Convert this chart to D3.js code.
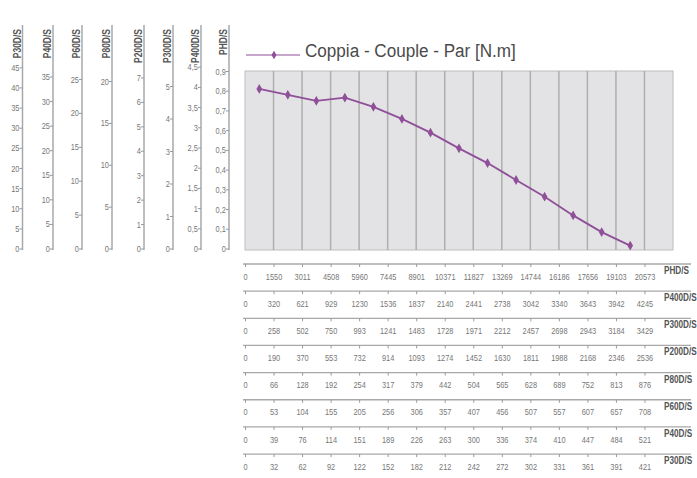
<!DOCTYPE html>
<html>
<head>
<meta charset="utf-8">
<script src="https://cdn.jsdelivr.net/npm/d3@7"></script>
<style>
  body { margin: 0; background: #fff; }
  svg { display: block; }
  text { font-family: "Liberation Sans Narrow", "Arial Narrow", "Liberation Sans", sans-serif; }
  .tick line { stroke: #999; }
  .tick text { fill: #777; font-size: 9.5px; }
</style>
</head>
<body>
<script>
// Torque curve (N.m), one point per speed step
var torque = [0.81, 0.78, 0.75, 0.766, 0.72, 0.659, 0.59, 0.511, 0.437, 0.352, 0.268, 0.174, 0.09, 0.022];

// Left vertical axes (one per model)
var leftNames = ["P30D/S", "P40D/S", "P60D/S", "P80D/S", "P200D/S", "P300D/S", "P400D/S", "PHD/S"];
var p30Ticks = [0, 5, 10, 15, 20, 25, 30, 35, 40, 45];
var p40Ticks = [0, 5, 10, 15, 20, 25, 30, 35];
var p60Ticks = [0, 5, 10, 15, 20, 25];
var p80Ticks = [0, 5, 10, 15, 20];
var p200Ticks = [0, 1, 2, 3, 4, 5, 6, 7];
var p300Ticks = [0, 1, 2, 3, 4, 5];
var p400Ticks = [0, 0.5, 1, 1.5, 2, 2.5, 3, 3.5, 4, 4.5];
var phdTicks = [0, 0.1, 0.2, 0.3, 0.4, 0.5, 0.6, 0.7, 0.8, 0.9];

// Bottom speed axes (one per model)
var bottomNames = ["PHD/S", "P400D/S", "P300D/S", "P200D/S", "P80D/S", "P60D/S", "P40D/S", "P30D/S"];
var phdSpeed = [0, 1550, 3011, 4508, 5960, 7445, 8901, 10371, 11827, 13269, 14744, 16186, 17656, 19103, 20573];
var p400Speed = [0, 320, 621, 929, 1230, 1536, 1837, 2140, 2441, 2738, 3042, 3340, 3643, 3942, 4245];
var p300Speed = [0, 258, 502, 750, 993, 1241, 1483, 1728, 1971, 2212, 2457, 2698, 2943, 3184, 3429];
var p200Speed = [0, 190, 370, 553, 732, 914, 1093, 1274, 1452, 1630, 1811, 1988, 2168, 2346, 2536];
var p80Speed = [0, 66, 128, 192, 254, 317, 379, 442, 504, 565, 628, 689, 752, 813, 876];
var p60Speed = [0, 53, 104, 155, 205, 256, 306, 357, 407, 456, 507, 557, 607, 657, 708];
var p40Speed = [0, 39, 76, 114, 151, 189, 226, 263, 300, 336, 374, 410, 447, 484, 521];
var p30Speed = [0, 32, 62, 92, 122, 152, 182, 212, 242, 272, 302, 331, 361, 391, 421];

var legendLabel = "Coppia - Couple - Par [N.m]";

var W = 697, H = 478;
var purple = "#8f4f99";
var narrow = "scale(0.78,1)";

var svg = d3.select("body").append("svg")
    .attr("width", W)
    .attr("height", H);

// Plot area
var plot = {left: 245, right: 673, top: 71, bottom: 250};
var nCols = 15;
var x = d3.scaleLinear().domain([0, nCols]).range([plot.left, plot.right]);
var y = d3.scaleLinear().domain([0, 0.9]).range([plot.bottom, plot.top]);

svg.append("rect")
    .attr("x", plot.left).attr("y", plot.top)
    .attr("width", plot.right - plot.left).attr("height", plot.bottom - plot.top)
    .attr("fill", "#e3e3e5")
    .attr("stroke", "#bdbdbd")
    .attr("stroke-width", 1);

svg.append("g").selectAll("line")
    .data(d3.range(1, nCols))
    .enter().append("line")
    .attr("x1", function(d) { return x(d); })
    .attr("x2", function(d) { return x(d); })
    .attr("y1", plot.top).attr("y2", plot.bottom)
    .attr("stroke", "#aeaeae")
    .attr("stroke-width", 1.5);

var line = d3.line()
    .x(function(d, i) { return x(i + 0.5); })
    .y(function(d) { return y(d); });

svg.append("path")
    .datum(torque)
    .attr("d", line)
    .attr("fill", "none")
    .attr("stroke", purple)
    .attr("stroke-width", 1.8);

svg.append("g").selectAll("path")
    .data(torque)
    .enter().append("path")
    .attr("d", d3.symbol().type(d3.symbolDiamond).size(28))
    .attr("transform", function(d, i) { return "translate(" + x(i + 0.5) + "," + y(d) + ")"; })
    .attr("fill", purple);

// Legend
svg.append("line")
    .attr("x1", 246).attr("x2", 300).attr("y1", 55).attr("y2", 55)
    .attr("stroke", purple).attr("stroke-width", 1.2);
svg.append("path")
    .attr("d", d3.symbol().type(d3.symbolDiamond).size(22))
    .attr("transform", "translate(274,55)")
    .attr("fill", purple);
svg.append("text")
    .attr("transform", "translate(305,57) scale(0.9,1)")
    .style("font-size", "19px")
    .style("fill", "#4a4a4a")
    .text(legendLabel);

// Left axes
var leftTicks = [p30Ticks, p40Ticks, p60Ticks, p80Ticks, p200Ticks, p300Ticks, p400Ticks, phdTicks];
var leftX = [22.5, 53, 82, 112, 144, 173, 201, 229];
var leftTopPx = [67.3, 76.5, 79, 81, 77.5, 86, 66.7, 71];
var zeroPx = 248.5;
var fmtComma = function(d) { return String(+d.toFixed(2)).replace(".", ","); };

leftTicks.forEach(function(ticks, k) {
  var max = ticks[ticks.length - 1];
  var s = d3.scaleLinear().domain([0, max]).range([zeroPx, leftTopPx[k]]);
  var g = svg.append("g").attr("transform", "translate(" + leftX[k] + ",0)");

  g.append("line")
    .attr("x1", 0).attr("x2", 0).attr("y1", 25).attr("y2", 250)
    .attr("stroke", "#a8a8a8").attr("stroke-width", 1.5);

  g.call(d3.axisLeft(s).tickValues(ticks).tickSize(3).tickPadding(1).tickFormat(fmtComma));
  g.select(".domain").remove();
  g.selectAll(".tick text").attr("transform", narrow);

  svg.append("text")
    .attr("transform", "translate(" + (leftX[k] - 2) + ",29) rotate(-90) scale(0.85,1)")
    .attr("text-anchor", "end")
    .style("font-size", "10px")
    .style("font-weight", "bold")
    .style("fill", "#555")
    .text(leftNames[k]);
});

// Bottom axes
var bottomVals = [phdSpeed, p400Speed, p300Speed, p200Speed, p80Speed, p60Speed, p40Speed, p30Speed];
var rowY0 = 264, rowStep = 27.15;

bottomVals.forEach(function(vals, k) {
  var yy = rowY0 + k * rowStep;
  var s = d3.scalePoint().domain(vals).range([x(0), x(vals.length - 1)]);
  var g = svg.append("g").attr("transform", "translate(0," + yy + ")");

  g.append("line")
    .attr("x1", 243).attr("x2", 691).attr("y1", 0).attr("y2", 0)
    .attr("stroke", "#a8a8a8").attr("stroke-width", 1.3);

  g.call(d3.axisBottom(s).tickSize(3).tickPadding(6));
  g.select(".domain").remove();
  g.selectAll(".tick text").attr("transform", narrow);

  g.append("text")
    .attr("transform", "translate(664,10) scale(0.82,1)")
    .attr("text-anchor", "start")
    .style("font-size", "10px")
    .style("font-weight", "bold")
    .style("fill", "#555")
    .text(bottomNames[k]);
});
</script>
</body>
</html>
